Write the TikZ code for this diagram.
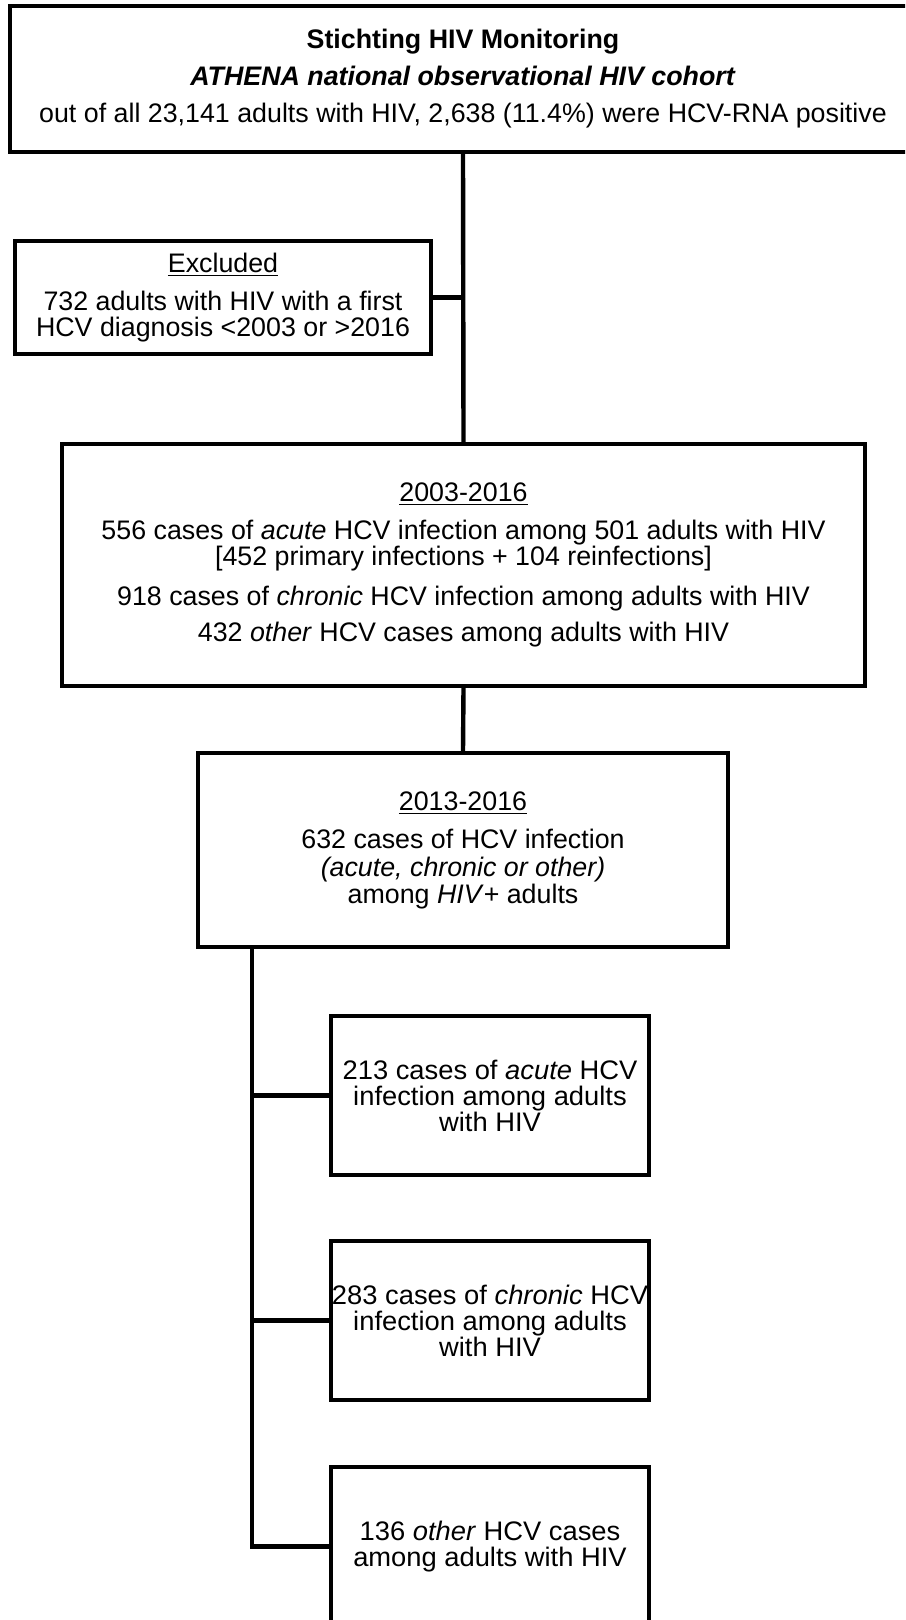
\documentclass[tikz,border=0pt]{standalone}
\usepackage{fontspec}
\setmainfont{Liberation Sans}
\newfontfamily\widesans[FakeStretch=1.02]{Liberation Sans}
\usepackage{tikz}
\usetikzlibrary{positioning,calc}

\begin{document}
\begin{tikzpicture}[
    x=0.5pt,
    y=-0.5pt,
    boxline/.style={line width=2.2pt, black},
    flowbox/.style={draw, boxline, rectangle, align=center, inner sep=0pt,
                    font=\fontsize{13.4}{13}\selectfont},
    childbox/.style={flowbox, minimum width=159pt, minimum height=79.5pt,
                     inner xsep=-3pt, font=\widesans\fontsize{13.4}{13}\selectfont},
    link/.style={boxline},
]
\clip (0,0) rectangle (905,1620);
\node[flowbox, minimum width=453pt, minimum height=73pt] (cohort) at (463,79)
  {\textbf{Stichting HIV Monitoring}\\[5.5pt]
   \textbf{\textit{ATHENA national observational HIV cohort}}\\[5.5pt]
   out of all 23,141 adults with HIV, 2,638 (11.4\%) were HCV-RNA positive};
\node[flowbox, minimum width=208pt, minimum height=56.5pt] (excl) at (223,297.5)
  {\underline{Excluded}\\[6pt]
   732 adults with HIV with a first\\
   HCV diagnosis <2003 or >2016};
\node[flowbox, minimum width=401.5pt, minimum height=121pt] (p2003) at (463.5,565)
  {\underline{2003-2016}\\[6pt]
   556 cases of \textit{acute} HCV infection among 501 adults with HIV\\
   {[}452 primary infections + 104 reinfections{]}\\[7pt]
   918 cases of \textit{chronic} HCV infection among adults with HIV\\[5pt]
   432 \textit{other} HCV cases among adults with HIV};
\node[flowbox, minimum width=265pt, minimum height=97pt] (p2013) at (463,850)
  {\underline{2013-2016}\\[6pt]
   632 cases of HCV infection\\[1pt]
   \textit{(acute, chronic or other)}\\[0.5pt]
   among \textit{HIV}+ adults};
\node[childbox] (c1) at (490,1095.5)
  {213 cases of \textit{acute} HCV\\infection among adults\\with HIV};
\node[childbox] (c2) at (490,1320.5)
  {283 cases of \textit{chronic} HCV\\infection among adults\\with HIV};
\node[childbox] (c3) at (490,1546.5)
  {136 \textit{other} HCV cases\\among adults with HIV};
\coordinate (split) at ($(p2013.south west)!0.105!(p2013.south east)$);
\draw[link] (cohort.south) -- (p2003.north);
\draw[link] (excl.east) -- (excl.east -| cohort.south);
\draw[link] (p2003.south) -- (p2013.north);
\draw[link] (split) |- (c3.west);
\foreach \c in {c1,c2}
  \draw[link] (\c.west) -- (\c.west -| split);
\end{tikzpicture}
\end{document}
